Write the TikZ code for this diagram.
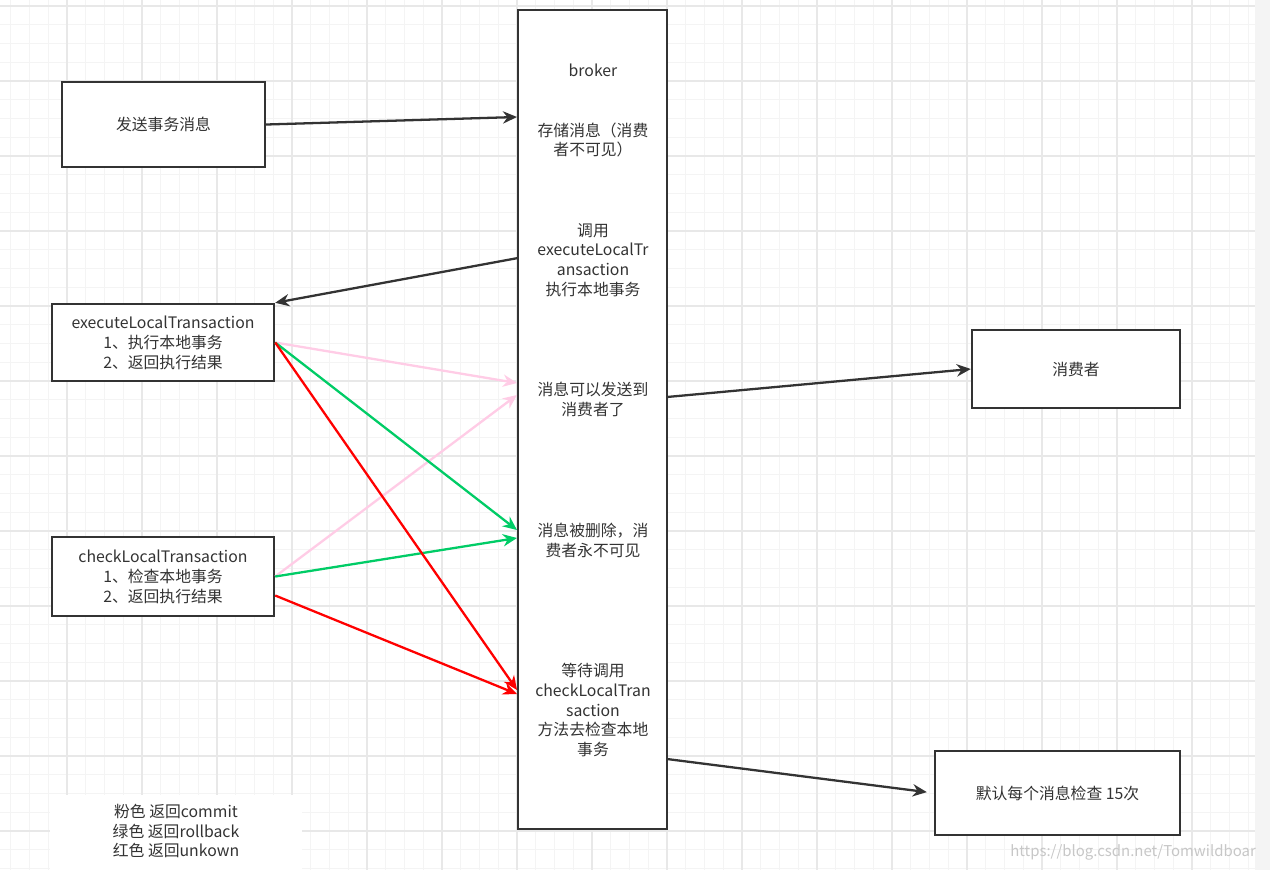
\documentclass[tikz,border=0pt]{standalone}
\usepackage{fontspec}
\setmainfont{Noto Sans CJK SC}
\usetikzlibrary{arrows.meta,positioning,calc}
\usepackage{xcolor}
\definecolor{ink}{HTML}{333333}
\definecolor{pinkline}{HTML}{FFCCE6}
\definecolor{greenline}{HTML}{00CC66}
\definecolor{redline}{HTML}{FF0000}
\definecolor{gridminor}{HTML}{F4F4F4}
\definecolor{gridmajor}{HTML}{E8E8E8}
\newcommand{\boxfont}{\fontsize{9}{11.3}\selectfont}

\begin{document}
\begin{tikzpicture}[
    x=0.02cm, y=-0.02cm,
    box/.style={draw=ink, line width=1.4pt, fill=white, align=center, font=\boxfont, text=ink, inner sep=0pt},
    txt/.style={align=center, font=\boxfont, text=ink},
    arrow/.style={-{Stealth[length=8pt,width=7pt]}, line width=1.3pt},
    minorgrid/.style={gridminor, line width=0.5pt},
    majorgrid/.style={gridmajor, line width=0.6pt}
]
\useasboundingbox (0,0) rectangle (1270,870);
\fill[white] (0,0) rectangle (1270,870);

% Grid
\foreach \i in {0,...,66} {\draw[minorgrid] ({10.75+18.75*\i},0) -- ({10.75+18.75*\i},870);}
\foreach \i in {0,...,46} {\draw[minorgrid] (0,{6+18.75*\i}) -- (1255,{6+18.75*\i});}
\foreach \i in {0,...,15} {\draw[majorgrid] ({67+75*\i},0) -- ({67+75*\i},870);}
\foreach \i in {0,...,11} {\draw[majorgrid] (0,{6+75*\i}) -- (1255,{6+75*\i});}
\fill[gridminor] (1255,0) rectangle (1270,870);

% Boxes
\node[box, minimum width=4.06cm, minimum height=1.70cm] (send) at (163.5,124.5) {发送事务消息};
\node[box, minimum width=2.98cm, minimum height=16.38cm] (broker) at (592.5,419.5) {};
\node[box, minimum width=4.44cm, minimum height=1.54cm] (exec) at (163,342.5) {executeLocalTransaction\\1、执行本地事务\\2、返回执行结果};
\node[box, minimum width=4.44cm, minimum height=1.58cm] (check) at (163,576.5) {checkLocalTransaction\\1、检查本地事务\\2、返回执行结果};
\node[box, minimum width=4.16cm, minimum height=1.56cm] (consumer) at (1076,369) {消费者};
\node[box, minimum width=4.90cm, minimum height=1.68cm] (retry) at (1057.5,793) {默认每个消息检查 15次};

% Broker texts
\node[txt] (title) at (593,70) {broker};
\node[txt] (store) at (593,140) {存储消息（消费\\者不可见）};
\node[txt] (call) at (593,260) {调用\\executeLocalTr\\ansaction\\执行本地事务};
\node[txt] (deliver) at (593,399) {消息可以发送到\\消费者了};
\node[txt] (drop) at (593,540) {消息被删除，消\\费者永不可见};
\node[txt] (wait) at (593,710) {等待调用\\checkLocalTran\\saction\\方法去检查本地\\事务};

% Points on the broker edges
\coordinate (inSend) at (517,117);
\coordinate (outCall) at (518,258);
\coordinate (inCommitA) at (517,383);
\coordinate (inCommitB) at (517,395);
\coordinate (inRollA) at (517,530);
\coordinate (inRollB) at (517,538);
\coordinate (inUnknownA) at (517,690);
\coordinate (inUnknownB) at (517,694);
\coordinate (outDeliver) at (667,397);
\coordinate (outWait) at (667,759);
\coordinate (checkLow) at ($(check.east)+(0,19)$);

% Arrows
\draw[arrow, ink] (send.east) -- (inSend);
\draw[arrow, ink] (outCall) -- (exec.north east);
\draw[arrow, pinkline] (exec.east) -- (inCommitA);
\draw[arrow, pinkline] (check.east) -- (inCommitB);
\draw[arrow, greenline] (exec.east) -- (inRollA);
\draw[arrow, greenline] (check.east) -- (inRollB);
\draw[arrow, redline] (exec.east) -- (inUnknownA);
\draw[arrow, redline] (checkLow) -- (inUnknownB);
\draw[arrow, ink] (outDeliver) -- (consumer.west);
\draw[arrow, ink, shorten >=4pt] (outWait) -- (retry.west);

% Legend
\fill[white] (50,795) rectangle (302,870);
\node[txt] (legend) at (176,831) {粉色 返回commit\\绿色 返回rollback\\红色 返回unkown};

% Watermark
\node[font=\fontsize{8.5}{10}\selectfont, text=black!22, anchor=east] (mark) at (1262,852) {https://blog.csdn.net/Tomwildboar};

\end{tikzpicture}
\end{document}
